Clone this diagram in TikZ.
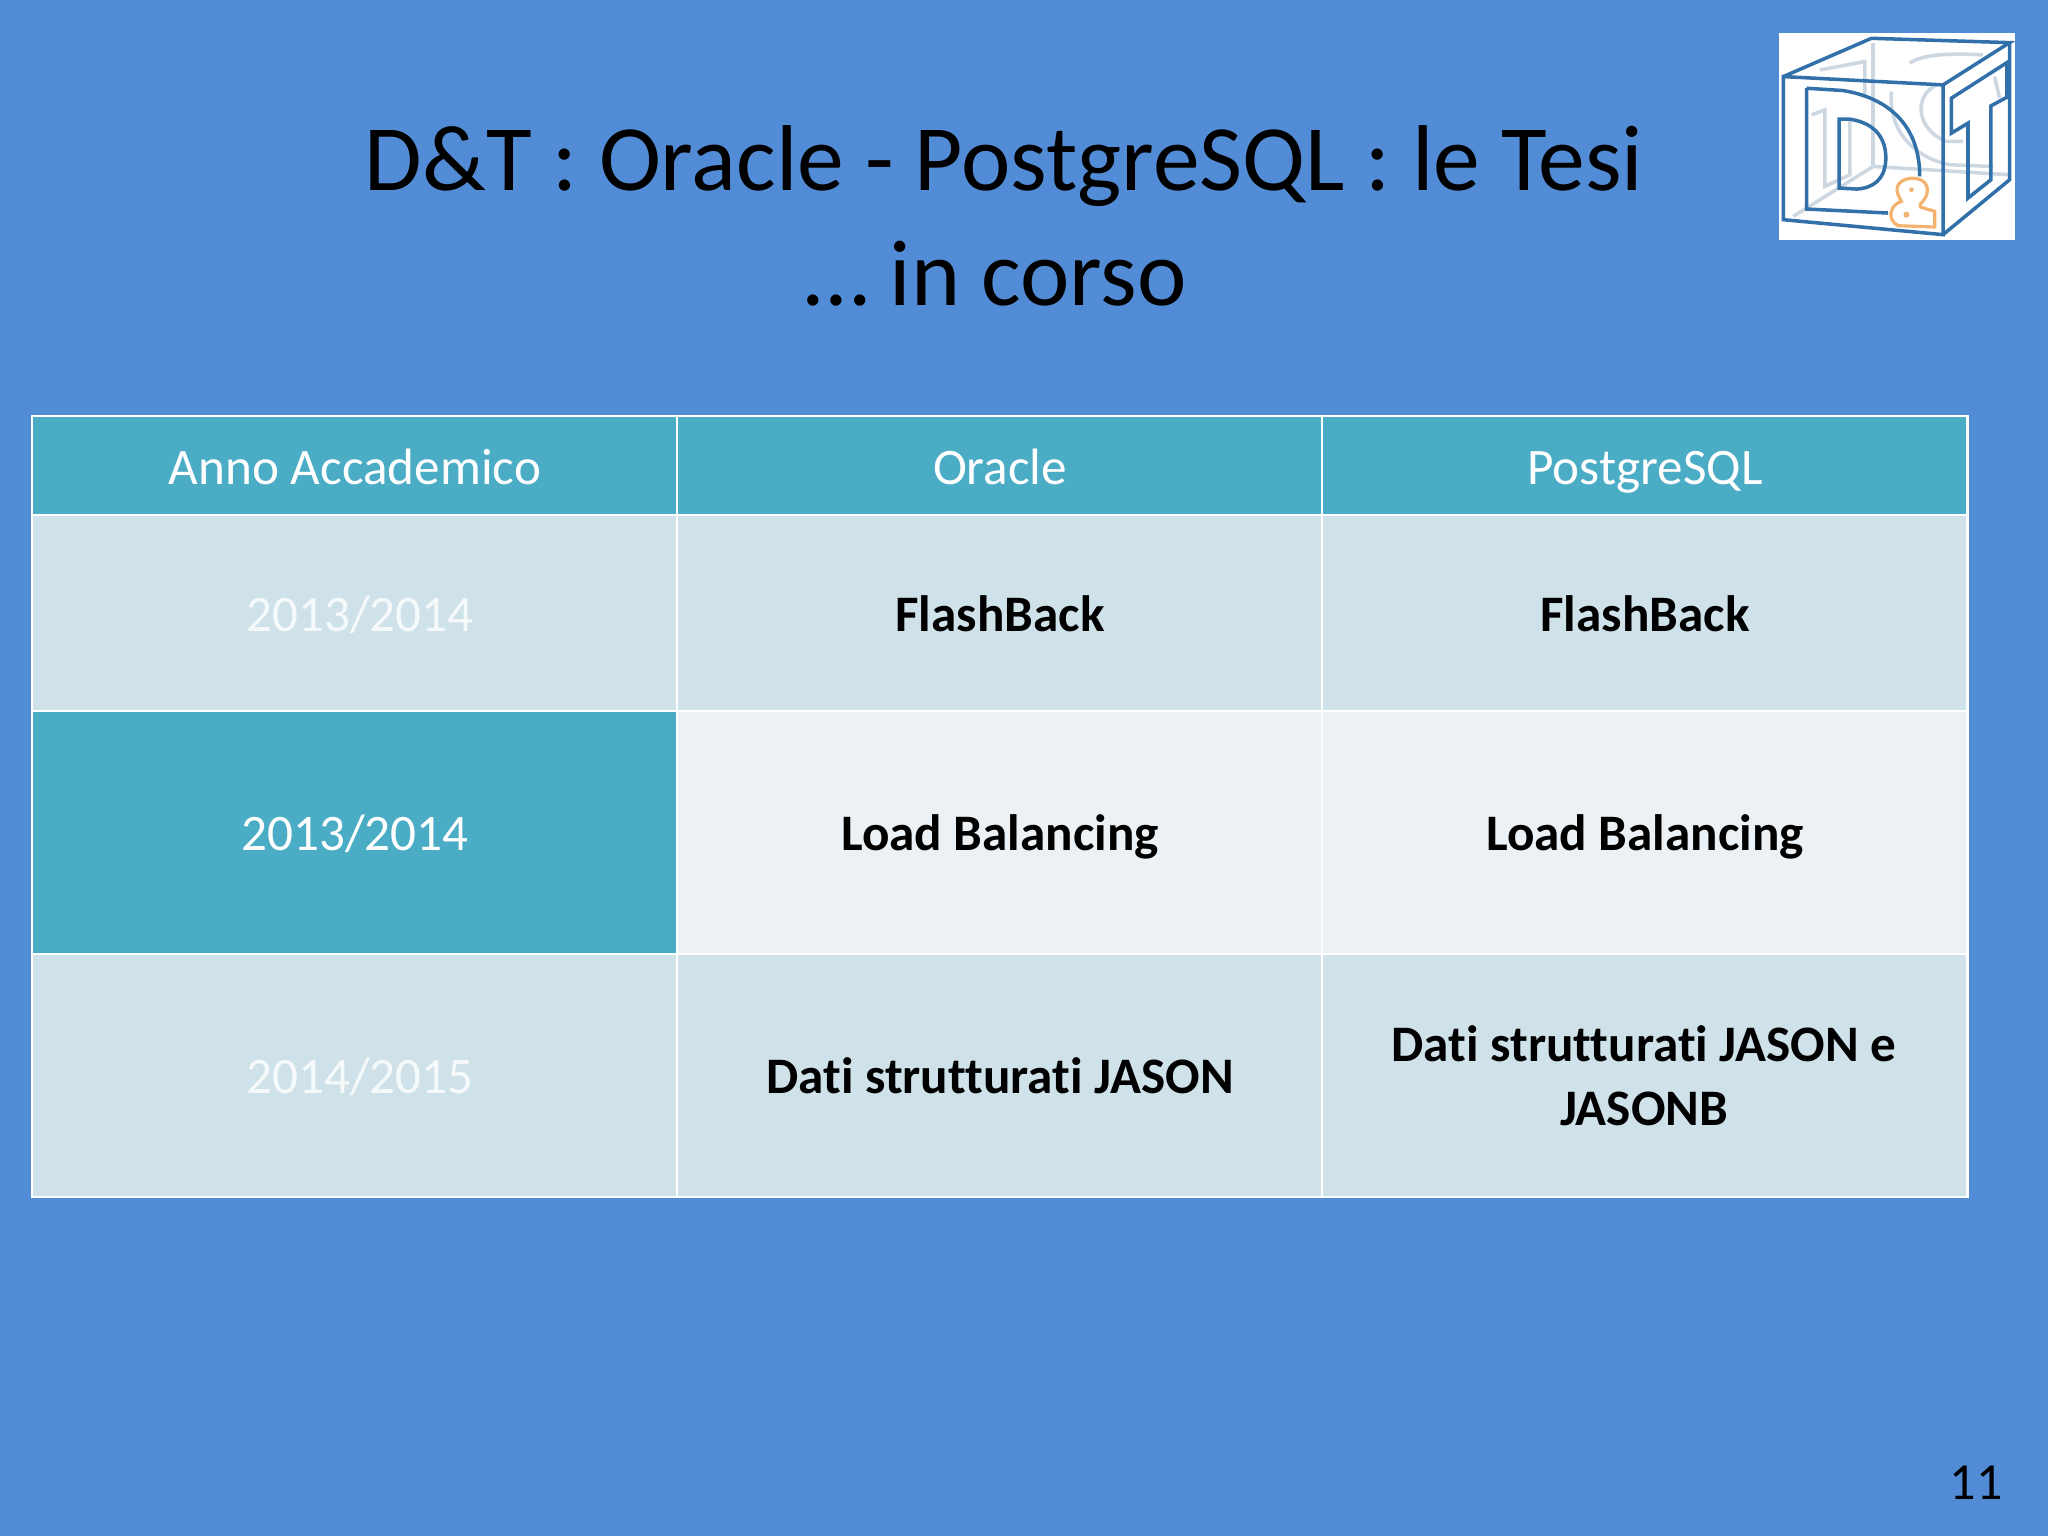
\documentclass[tikz,border=0pt]{standalone}
\usepackage{fontspec}
\setmainfont[Ligatures=NoCommon]{Carlito}
\definecolor{slidebg}{RGB}{83,140,214}
\definecolor{headfill}{RGB}{75,172,198}
\definecolor{banda}{RGB}{207,226,234}
\definecolor{bandb}{RGB}{235,241,245}
\definecolor{logoblue}{RGB}{50,112,170}
\definecolor{logograu}{RGB}{205,215,225}
\definecolor{logoorange}{RGB}{243,178,110}
\begin{document}
\begin{tikzpicture}[x=0.01cm,y=-0.01cm]
            \tikzset{
            cell/.style={draw=white,line width=0.6pt,inner sep=0,anchor=north west,minimum width=6.45cm},
            head cell/.style={cell,fill=headfill},
            band a/.style={cell,fill=banda},
            band b/.style={cell,fill=bandb},
            title/.style={align=center,font=\fontsize{26.6}{32.7}\selectfont,text=black},
            logo line/.style={draw=logoblue,line width=1pt},
            logo back/.style={draw=logograu,line width=1pt}
            }
            \fill[slidebg] (0,0) rectangle (2048,1536);
            \useasboundingbox (0,0) rectangle (2048,1536);

            \node[title] (title) at (1004,216) {D\&T : Oracle - PostgreSQL : le Tesi\\… in corso\hspace*{4.8pt}};

            % table
            \node[head cell,minimum height=0.995cm] (h1) at (31,415) {};
            \node[head cell,minimum height=0.995cm] (h2) at (676,415) {};
            \node[head cell,minimum height=0.995cm] (h3) at (1321,415) {};
            \node[band a,minimum height=1.955cm] (a1) at (31,514) {};
            \node[band a,minimum height=1.955cm] (a2) at (676,514) {};
            \node[band a,minimum height=1.955cm] (a3) at (1321,514) {};
            \node[head cell,minimum height=2.43cm] (b1) at (31,710) {};
            \node[band b,minimum height=2.43cm] (b2) at (676,710) {};
            \node[band b,minimum height=2.43cm] (b3) at (1321,710) {};
            \node[band a,minimum height=2.43cm] (c1) at (31,953) {};
            \node[band a,minimum height=2.43cm] (c2) at (676,953) {};
            \node[band a,minimum height=2.43cm] (c3) at (1321,953) {};

            \tikzset{
            txt/.style={align=center,anchor=base,inner sep=0,font=\fontsize{14.55}{18.2}\selectfont},
            txt w/.style={txt,text=white},
            txt b/.style={txt,text=black,font=\fontsize{14.55}{18.2}\selectfont\bfseries}
            }
            \node[txt w] (th1) at (355,484) {Anno Accademico};
            \node[txt w] (th2) at (1000,484) {Oracle};
            \node[txt w] (th3) at (1645,484) {PostgreSQL};
            \node[txt w,text opacity=0.8] (ta1) at (360,631) {2013/2014};
            \node[txt b] (ta2) at (1000,631) {FlashBack};
            \node[txt b] (ta3) at (1645,631) {FlashBack};
            \node[txt w] (tb1) at (355,850) {2013/2014};
            \node[txt b] (tb2) at (1000,850) {Load Balancing};
            \node[txt b] (tb3) at (1645,850) {Load Balancing};
            \node[txt w,text opacity=0.8] (tc1) at (360,1093) {2014/2015};
            \node[txt b] (tc2) at (1000,1093) {Dati strutturati JASON};
            \node[txt b,anchor=center] (tc3) at (1644,1076) {Dati strutturati JASON e\\JASONB};

            \node[font=\fontsize{14.8}{16}\selectfont,text=black] (page) at (1976,1483) {11};

            % logo
            \begin{scope}[shift={(1750,20)},x=0.00333cm,y=-0.00333cm]
            \fill[white] (87,40) rectangle (795,660);
            \draw[logo back] (370,70) -- (370,440);
            \draw[logo back] (130,590) -- (370,440) -- (780,465);
            \draw[logo back] (210,150) -- (345,125) -- (345,230);
            \draw[logo back] (185,285) -- (225,270) -- (225,500) -- (300,465) -- (300,300);
            \draw[logo back] (480,130) .. controls (520,100) and (620,100) .. (700,105);
            \draw[logo back] (425,215) .. controls (415,320) and (480,410) .. (600,435) -- (730,440);
            \draw[logo back] (560,195) .. controls (490,230) and (500,330) .. (590,365) -- (640,365);
            \draw[logo back] (735,170) -- (750,235);

            \draw[logo line] (100,170) -- (580,195) -- (580,645) -- (100,600) -- cycle;
            \draw[logo line] (100,170) -- (365,55) -- (780,68) -- (580,195);
            \draw[logo line] (780,68) -- (780,480) -- (580,645);
            \draw[logo line] (170,205) -- (280,212) .. controls (420,235) and (510,320) .. (510,470);
            \draw[logo line] (170,205) -- (170,568) -- (415,580);
            \draw[logo line] (268,298) -- (300,298) .. controls (380,310) and (410,360) .. (408,420) .. controls (405,480) and (370,505) .. (320,508) -- (268,505) -- cycle;
            \draw[logo line] (605,235) -- (772,128) -- (772,232) -- (724,258) -- (724,480) -- (655,535) -- (655,310) -- (605,340) -- cycle;

            \draw[draw=logoorange,line width=0.9pt,fill=white] (445,525) .. controls (420,465) and (545,455) .. (532,520) .. controls (525,550) and (505,550) .. (512,562) -- (555,575) -- (555,622) -- (445,618) .. controls (410,600) and (420,555) .. (455,545) -- cycle;
            \fill[logoorange] (485,510) circle (7) (470,585) circle (9);
            \end{scope}
        \end{tikzpicture}
\end{document}
